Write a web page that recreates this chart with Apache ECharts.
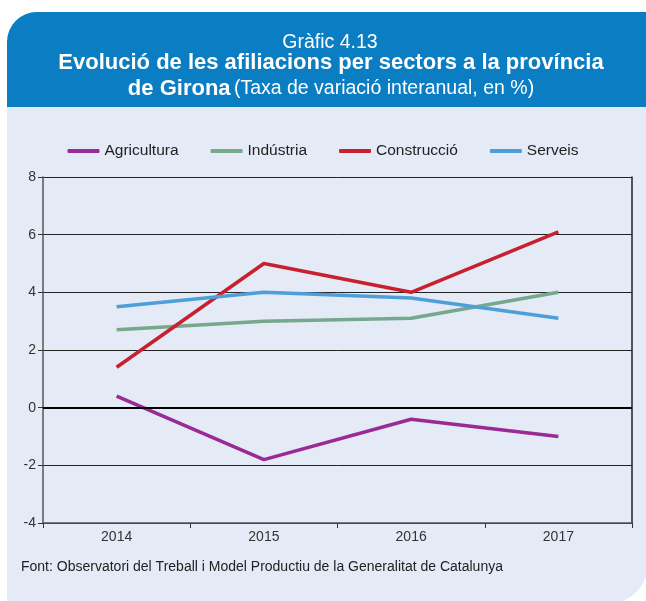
<!DOCTYPE html>
<html><head><meta charset="utf-8">
<script src="https://cdn.jsdelivr.net/npm/echarts@6/dist/echarts.min.js"></script>
<style>html,body{margin:0;padding:0;background:#fff}#c{width:646px;height:601px}</style>
</head><body><div id="c"></div>
<script>
var categories = ['2014','2015','2016','2017'];
var agricultura = [0.4, -1.8, -0.4, -1.0];
var industria = [2.7, 3.0, 3.1, 4.0];
var construccio = [1.4, 5.0, 4.0, 6.1];
var serveis = [3.5, 4.0, 3.8, 3.1];
var seriesNames = ['Agricultura','Indústria','Construcció','Serveis'];
var seriesColors = ['#9a2a95','#76a88c','#c8202f','#4e9fd8'];
var seriesData = [agricultura, industria, construccio, serveis];

var font = '"Liberation Sans", Arial, sans-serif';
var chart = echarts.init(document.getElementById('c'), null, {renderer:'canvas'});
chart.setOption({
  animation: false,
  backgroundColor: '#ffffff',
  graphic: [
    {type:'rect', z:-10, shape:{x:7,y:12,width:641,height:592,r:[30,0,40,0]}, style:{fill:'#e4eaf6'}},
    {type:'rect', z:-9, shape:{x:7,y:12,width:641,height:95,r:[30,0,0,0]}, style:{fill:'#0a7dc3'}},
    {type:'text', z:10, style:{x:330, y:33, text:'Gràfic 4.13', fill:'#fff', font:'19.5px "Liberation Sans", Arial, sans-serif', textAlign:'center'}},
    {type:'text', z:10, style:{x:331, y:52, text:'Evolució de les afiliacions per sectors a la província', fill:'#fff', font:'bold 22px "Liberation Sans", Arial, sans-serif', textAlign:'center'}},
    {type:'text', z:10, style:{x:331, y:78, text:'{b|de Girona} {n|(Taxa de variació interanual, en %)}', fill:'#fff', textAlign:'center',
      rich:{b:{font:'bold 22px "Liberation Sans", Arial, sans-serif', fill:'#fff'}, n:{font:'19.5px "Liberation Sans", Arial, sans-serif', fill:'#fff'}}}},
    {type:'text', z:10, style:{x:21, y:560, text:'Font: Observatori del Treball i Model Productiu de la Generalitat de Catalunya', fill:'#222', font:'14px "Liberation Sans", Arial, sans-serif'}}
  ],
  legend: {
    top: 138, left: 'center', itemWidth: 32, itemHeight: 4, itemGap: 32,
    icon: 'roundRect',
    textStyle: {fontFamily: font, fontSize: 15.5, color:'#222'},
    data: seriesNames
  },
  grid: {left: 43, right: 14, top: 177, bottom: 78, show: false},
  xAxis: {
    type: 'category', data: categories, boundaryGap: true,
    axisLine: {onZero:false, lineStyle:{color:'#555', width:1.5}},
    axisTick: {show:true, length:5, lineStyle:{color:'#333'}},
    axisLabel: {fontFamily: font, fontSize: 14, color:'#333', margin: 7},
    splitLine: {show:false}
  },
  yAxis: [{
    type: 'value', min: -4, max: 8, interval: 2,
    axisLine: {show:true, lineStyle:{color:'#555', width:1.5}},
    axisTick: {show:true, length:5, lineStyle:{color:'#333'}},
    axisLabel: {fontFamily: font, fontSize: 14, color:'#333', margin: 7},
    splitLine: {show:true, lineStyle:{color:'#222', width:1}}
  },{
    type: 'value', min: -4, max: 8, interval: 2, position:'right',
    axisLine: {show:true, lineStyle:{color:'#222', width:1.5}},
    axisTick: {show:false}, axisLabel: {show:false}, splitLine:{show:false}
  }],
  series: seriesNames.map(function(n,i){
    return {
      name: n, type: 'line', data: seriesData[i], symbol: 'none',
      lineStyle: {color: seriesColors[i], width: 3.5}, itemStyle:{color: seriesColors[i]},
      z: 3,
      markLine: i===0 ? {silent:true, symbol:'none', label:{show:false}, lineStyle:{color:'#000', width:2, type:'solid'}, data:[{yAxis:0}]} : undefined
    };
  })
});
</script></body></html>
